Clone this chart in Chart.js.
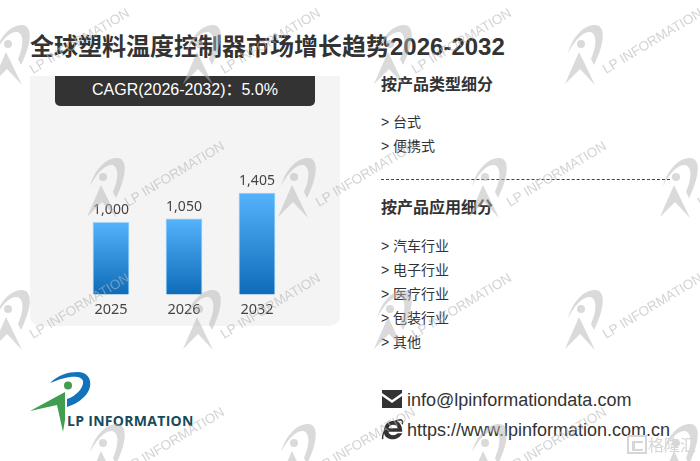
<!DOCTYPE html>
<html lang="zh"><head><meta charset="utf-8">
<script src="https://cdn.jsdelivr.net/npm/chart.js@4"></script>
<style>
html,body{margin:0;padding:0;background:#fff;width:700px;height:461px;overflow:hidden}
body{position:relative;font-family:"Liberation Sans","Noto Sans CJK SC",sans-serif;color:#333}
.t{position:absolute;white-space:nowrap;line-height:1}
#panel{position:absolute;left:30px;top:76px;width:310px;height:250px;background:#f4f4f4;border-radius:0 0 10px 10px}
#cagr{position:absolute;left:55px;top:76px;width:260px;height:30px;background:#333;color:#fff;border-radius:0 0 5px 5px;font-size:16px;line-height:27px;text-align:center}
#cw{position:absolute;left:30px;top:76px;width:310px;height:250px}
#dash{position:absolute;left:381px;top:179px;width:289px;border-top:1px dashed #444}
svg{position:absolute;left:0;top:0}
</style></head><body>
<div id="panel"></div>
<div id="cw"><canvas id="c" width="310" height="250"></canvas></div>
<div id="cagr"></div>
<div id="texts"></div>
<div id="dash"></div>
<svg width="700" height="461" viewBox="0 0 700 461">
  <path d="M50 383 C58 375 68 372 78 372 C92 372 94 388 84 397 C79 402 73 405 67 407 L67 399 C76 396 84 388 83 381 C81 374 66 376 50 383Z" fill="#1273bd"/>
  <circle cx="68" cy="385.500" r="4" fill="#3f9e4f"/>
  <path d="M30 411 L65 392 L65 420 L63 432 L57 405Z" fill="#3f9e4f"/>
  <path d="M382 390 H402 V393 L392 400 L382 393Z" fill="#333"/>
  <path d="M382 396 L392 403 L402 396 V408 H382Z" fill="#333"/>
  <g transform="translate(392.500,430) scale(1.150)">
    <path d="M-7.500 1 C-7.500 -5 -3 -8 1 -8 C6 -8 8.500 -4 8.500 1.500 H-3.500 C-3 5 2 5.500 4.500 2.800 H8.500 C6 8 -1 9.500 -5 6.500 C-7 5 -7.500 3 -7.500 1Z M-3.500 -1.500 H4.500 C4.300 -5.500 -3 -5.500 -3.500 -1.500Z" fill="#333" fill-rule="evenodd"/>
    <path d="M-8.500 8 C-9.500 3 -4 -6 5 -8.500 C8 -9.500 9.500 -8 8.500 -5" fill="none" stroke="#333" stroke-width="1.300"/>
  </g>
  <g id="wm"></g>
  <g fill="#d6d6d6" stroke="none">
    <rect x="628" y="436" width="18" height="17" fill="none" stroke="#d6d6d6" stroke-width="2"/>
    <path d="M632 441 H643 V443 H635 V449 H643 V451 H632Z"/>
    <text x="648" y="451" font-size="16" font-family="Noto Sans CJK SC" font-weight="400" id="gelonghui"></text>
  </g>
</svg>
<script>
// Chart data
const categories = ["2025", "2026", "2032"];
const marketValues = [1000, 1050, 1405];
// Text content
const titleText = "全球塑料温度控制器市场增长趋势2026-2032";
const cagrText = "CAGR(2026-2032)：5.0%";
const typeHeading = "按产品类型细分";
const typeItems = ["台式", "便携式"];
const appHeading = "按产品应用细分";
const appItems = ["汽车行业", "电子行业", "医疗行业", "包装行业", "其他"];
const emailText = "info@lpinformationdata.com";
const urlText = "https://www.lpinformation.com.cn";
const logoText = "LP INFORMATION";
const watermarkText = "LP INFORMATION";
const badgeText = "格隆汇";

const box = document.getElementById("texts");
function put(text, x, cy, size, weight, color, family, spacing){
  const d = document.createElement("div");
  d.className = "t";
  d.textContent = text;
  d.style.cssText = `left:${x}px;top:${cy - size/2}px;font-size:${size}px;font-weight:${weight||400};color:${color||"#333"};` + (family?`font-family:${family};`:"") + (spacing?`letter-spacing:${spacing}px;`:"");
  box.appendChild(d);
}
put(titleText, 30, 47, 24, 700, "#333");
put(typeHeading, 381, 85, 16, 700, "#333");
typeItems.forEach((s,i)=>put("> "+s, 381, 121.500+24*i, 14, 400, "#333"));
put(appHeading, 381, 208, 16, 700, "#333");
appItems.forEach((s,i)=>put("> "+s, 381, 245.500+24*i, 14, 400, "#333"));
put(emailText, 407, 400, 18, 400, "#333");
put(urlText, 407, 430, 18, 400, "#333");
put(logoText, 67, 421, 14, 700, "#174a5b", '"Open Sans","Liberation Sans",sans-serif', 0.300);
document.getElementById("cagr").textContent = cagrText;
document.getElementById("gelonghui").textContent = badgeText;

// Watermark tiling
const NS = "http://www.w3.org/2000/svg";
const wm = document.getElementById("wm");
function mark(ox, oy){
  const g = document.createElementNS(NS,"g");
  g.setAttribute("transform",`translate(${ox},${oy})`);
  g.innerHTML = `<path d="M3 28 C8 10 20 0 30 0 C41 0 40 18 29 40 L26 34 C33 18 31 8 25 7 C17 6 8 18 3 28Z" fill="#b5b5b5" fill-opacity=".5"/>
  <circle cx="16" cy="19" r="4" fill="#b5b5b5" fill-opacity=".5"/>
  <path d="M14 27 L0 59 L15 44 L30 60Z" fill="#b5b5b5" fill-opacity=".5"/>
  <text x="41" y="49" transform="rotate(-31 41 49)" font-size="13.500" fill="#b5b5b5" fill-opacity=".6" font-family="Liberation Sans">${watermarkText}</text>`;
  wm.appendChild(g);
}
[[25,-8],[158,87],[290,-8],[424,87]].forEach(([y,x0])=>{
  for(let k=0;k<4;k++) mark(x0+191*k,y);
});

// Chart
const chartFont = '"Noto Sans","Liberation Sans",sans-serif';
const valueLabels = {
  id:"valueLabels",
  afterDatasetsDraw(chart){
    const ctx = chart.ctx, meta = chart.getDatasetMeta(0);
    ctx.save();
    ctx.font = '14px ' + chartFont;
    ctx.fillStyle = "#444";
    ctx.textAlign = "center";
    ctx.textBaseline = "middle";
    meta.data.forEach((el,i)=>ctx.fillText(marketValues[i].toLocaleString("en-US"), el.x, el.y-12));
    ctx.restore();
  }
};
new Chart(document.getElementById("c"),{
  type:"bar",
  data:{labels:categories,datasets:[{
    data:marketValues,
    barThickness:36,
    borderWidth:{left:1,right:1,top:1,bottom:0},
    borderColor:"rgba(130,200,255,.75)",
    backgroundColor(c){
      const chart=c.chart;
      if(!chart.chartArea||!c.parsed) return "#2f8fdc";
      const y=chart.scales.y;
      const g=chart.ctx.createLinearGradient(0,y.getPixelForValue(c.parsed.y),0,y.getPixelForValue(0));
      g.addColorStop(0,"#55b3fc");
      g.addColorStop(1,"#0d6bb8");
      return g;
    }
  }]},
  options:{
    responsive:false,animation:false,
    layout:{padding:{left:44.5,right:46.5,top:0,bottom:0}},
    plugins:{legend:{display:false},tooltip:{enabled:false},title:{display:false}},
    scales:{
      y:{display:false,min:0,max:3028},
      x:{grid:{display:false,drawTicks:false},border:{display:false},
         ticks:{padding:7,color:"#444",font:{size:14.5,family:chartFont},maxRotation:0}}
    }
  },
  plugins:[valueLabels]
});
</script>
</body></html>
